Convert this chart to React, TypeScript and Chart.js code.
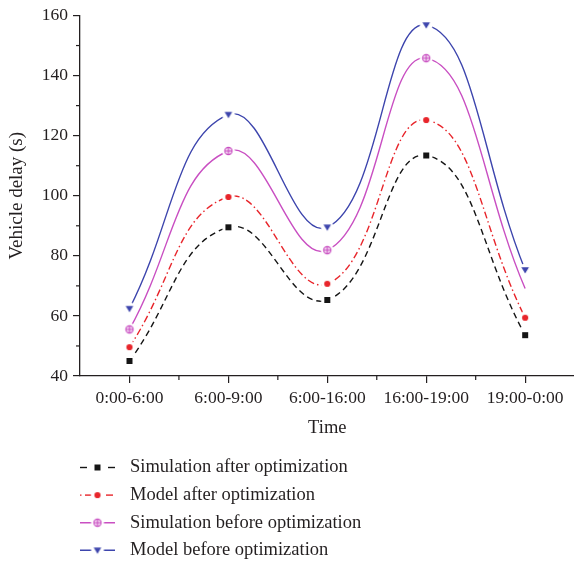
import React, { useEffect, useRef } from 'react';
import { Chart, registerables } from 'chart.js';

Chart.register(...registerables);

const categories = ['0:00-6:00', '6:00-9:00', '6:00-16:00', '16:00-19:00', '19:00-0:00'];
const simulationAfter = [45, 89.5, 65.3, 113.4, 53.6];
const modelAfter = [49.6, 99.6, 70.7, 125.2, 59.4];
const simulationBefore = [55.5, 114.9, 81.9, 145.8, 69.1];
const modelBefore = [62.4, 127, 89.5, 156.8, 75.3];
const seriesNames = [
  'Simulation after optimization',
  'Model after optimization',
  'Simulation before optimization',
  'Model before optimization',
];
const yMin = 40;
const yMax = 160;
const yStep = 20;
const minorYTicks = [50, 70, 90, 110, 130, 150];

const FONT = "'Liberation Serif', 'DejaVu Serif', serif";
const TEXT = '#231f20';
const BLACK = '#151515';
const RED = '#e8252b';
const MAGENTA = '#c94fc2';
const BLUE = '#3d45ad';

function makeMarker(kind: string): HTMLCanvasElement {
  const c = document.createElement('canvas');
  c.width = 16;
  c.height = 16;
  const g = c.getContext('2d')!;
  const m = 8;
  g.fillStyle = '#ffffff';
  g.beginPath();
  g.arc(m, m, 6.5, 0, Math.PI * 2);
  g.fill();
  if (kind === 'square') {
    g.fillStyle = BLACK;
    g.fillRect(m - 3, m - 3, 6, 6);
  } else if (kind === 'circle') {
    g.fillStyle = RED;
    g.beginPath();
    g.arc(m, m, 3.1, 0, Math.PI * 2);
    g.fill();
  } else if (kind === 'circleplus') {
    g.strokeStyle = MAGENTA;
    g.lineWidth = 1.2;
    g.fillStyle = 'rgba(201,79,194,0.15)';
    g.beginPath();
    g.arc(m, m, 3.6, 0, Math.PI * 2);
    g.fill();
    g.stroke();
    g.beginPath();
    g.moveTo(m - 3.6, m);
    g.lineTo(m + 3.6, m);
    g.moveTo(m, m - 3.6);
    g.lineTo(m, m + 3.6);
    g.stroke();
  } else if (kind === 'triangle') {
    g.fillStyle = BLUE;
    g.beginPath();
    g.moveTo(m - 3.8, m - 2.8);
    g.lineTo(m + 3.8, m - 2.8);
    g.lineTo(m, m + 3.4);
    g.closePath();
    g.fill();
  }
  return c;
}

export default function App() {
  const ref = useRef<HTMLCanvasElement | null>(null);

  useEffect(() => {
    const canvas = ref.current;
    if (!canvas) return;
    const markers = [makeMarker('square'), makeMarker('circle'), makeMarker('circleplus'), makeMarker('triangle')];
    const colors = [BLACK, RED, MAGENTA, BLUE];
    const dashes = [[6, 4], [7, 3, 1.5, 3], [], []];
    const values = [simulationAfter, modelAfter, simulationBefore, modelBefore];
    // legend sample segments [x0, x1] per series
    const legendSegs: number[][][] = [
      [[80, 87], [108, 115]],
      [[80, 81.5], [85, 91.5], [106, 113]],
      [[80, 115]],
      [[80, 115]],
    ];

    const minorTicks = {
      id: 'minorTicks',
      afterDraw(chart: any) {
        const ctx = chart.ctx;
        const ys = chart.scales.y;
        const xs = chart.scales.x;
        const area = chart.chartArea;
        ctx.save();
        ctx.strokeStyle = TEXT;
        ctx.lineWidth = 1.2;
        for (const v of minorYTicks) {
          const py = ys.getPixelForValue(v);
          ctx.beginPath();
          ctx.moveTo(area.left - 4, py);
          ctx.lineTo(area.left, py);
          ctx.stroke();
        }
        for (let i = 0; i < categories.length - 1; i++) {
          const px = (xs.getPixelForValue(i) + xs.getPixelForValue(i + 1)) / 2;
          ctx.beginPath();
          ctx.moveTo(px, area.bottom);
          ctx.lineTo(px, area.bottom + 4);
          ctx.stroke();
        }
        ctx.restore();
      },
    };

    const legendPlugin = {
      id: 'customLegend',
      afterDraw(chart: any) {
        const ctx = chart.ctx;
        ctx.save();
        const y0 = 467.5;
        const step = 27.6;
        for (let i = 0; i < seriesNames.length; i++) {
          const y = y0 + i * step;
          ctx.strokeStyle = colors[i];
          ctx.lineWidth = 1.4;
          for (const [a, b] of legendSegs[i]) {
            ctx.beginPath();
            ctx.moveTo(a, y);
            ctx.lineTo(b, y);
            ctx.stroke();
          }
          const mk = markers[i];
          ctx.drawImage(mk, 97.5 - mk.width / 2, y - mk.height / 2);
          ctx.fillStyle = TEXT;
          ctx.font = `18.5px ${FONT}`;
          ctx.textBaseline = 'middle';
          ctx.textAlign = 'left';
          ctx.fillText(seriesNames[i], 130, y);
        }
        ctx.restore();
      },
    };

    const chart = new Chart(canvas, {
      type: 'line',
      data: {
        labels: categories,
        datasets: values.map((v, i) => ({
          label: seriesNames[i],
          data: v,
          borderColor: colors[i],
          backgroundColor: colors[i],
          borderWidth: 1.4,
          borderDash: dashes[i],
          tension: 0.45,
          fill: false,
          pointStyle: markers[i],
          pointRadius: i === 2 ? [4, 4, 4, 4, 0] : 4,
          pointHoverRadius: 4,
        })),
      },
      options: {
        animation: false,
        responsive: false,
        events: [],
        layout: { padding: { top: 12, bottom: 119, left: 0, right: 0 } },
        plugins: {
          legend: { display: false },
          tooltip: { enabled: false },
        },
        scales: {
          x: {
            type: 'category',
            offset: true,
            grid: {
              drawOnChartArea: false,
              drawTicks: true,
              tickLength: 7,
              color: TEXT,
              lineWidth: 1.2,
              offset: false,
            },
            border: { display: true, color: TEXT, width: 1.3 },
            ticks: {
              color: TEXT,
              font: { family: FONT, size: 17.5 },
              padding: 5,
              maxRotation: 0,
              autoSkip: false,
            },
            title: {
              display: true,
              text: 'Time',
              color: TEXT,
              font: { family: FONT, size: 18.5 },
              padding: { top: 0, bottom: 7 },
            },
            afterFit(scale: any) {
              scale.height = 70;
            },
          },
          y: {
            min: yMin,
            max: yMax,
            grid: {
              drawOnChartArea: false,
              drawTicks: true,
              tickLength: 7,
              color: TEXT,
              lineWidth: 1.2,
            },
            border: { display: true, color: TEXT, width: 1.3 },
            ticks: {
              stepSize: yStep,
              color: TEXT,
              font: { family: FONT, size: 17.5 },
              padding: 5,
            },
            title: {
              display: true,
              text: 'Vehicle delay (s)',
              color: TEXT,
              font: { family: FONT, size: 19 },
              padding: { top: 6, bottom: 0 },
            },
            afterFit(scale: any) {
              scale.width = 80;
            },
          },
        },
      },
      plugins: [minorTicks, legendPlugin],
    });
    return () => chart.destroy();
  }, []);

  return (
    <div style={{ position: 'absolute', left: 0, top: 0, width: 574, height: 565, overflow: 'hidden', background: '#fff' }}>
      <canvas ref={ref} width={580} height={565} style={{ display: 'block', width: 580, height: 565 }} />
    </div>
  );
}
